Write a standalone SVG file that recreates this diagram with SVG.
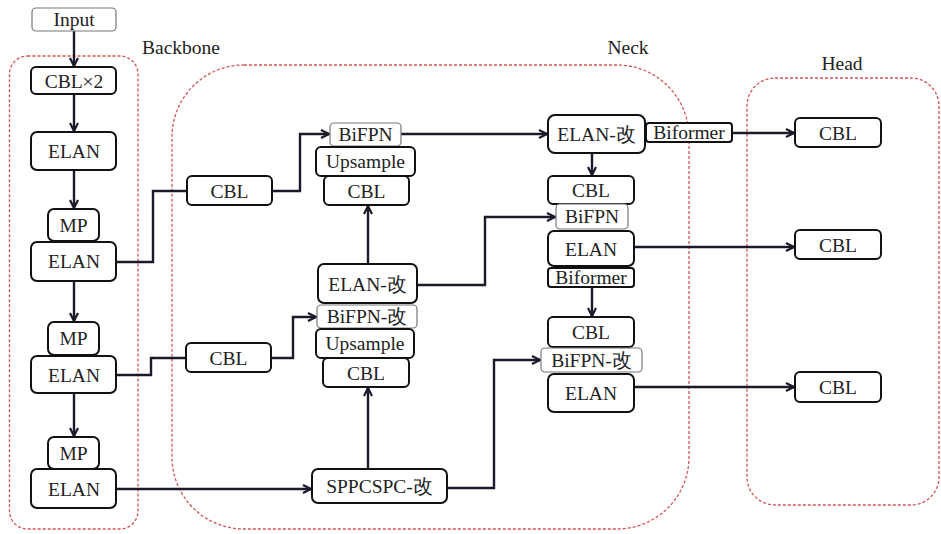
<svg xmlns="http://www.w3.org/2000/svg" width="941" height="534" viewBox="0 0 941 534">
<defs>
<style>
text{font-family:'Liberation Serif','Times New Roman','DejaVu Serif',serif;font-size:19.5px;fill:#222;text-anchor:middle}
.b{fill:#fff;stroke:#111;stroke-width:2}
.g{fill:#fff;stroke:#777;stroke-width:1.2}
.grp{fill:none;stroke:#d25555;stroke-width:1.3;stroke-dasharray:3 2}
.c path{fill:none;stroke:#1a1a2a;stroke-width:2.4}
.lbl{text-anchor:start}
</style>
<marker id="ah" viewBox="0 0 10 10" refX="9" refY="5" markerWidth="10" markerHeight="10" markerUnits="userSpaceOnUse" orient="auto">
<path d="M1,1 L9,5 L1,9" fill="none" stroke="#1a1a2a" stroke-width="2.2"/>
</marker>
</defs>
<rect width="941" height="534" fill="#fff"/>
<g font-family="'Liberation Serif', 'Times New Roman', 'DejaVu Serif', serif">
<g id="groups">
<rect class="grp" x="9.5" y="56" width="128.5" height="473" rx="18"/>
<rect class="grp" x="172" y="65" width="517" height="464" rx="72"/>
<rect class="grp" x="747" y="78" width="192" height="427" rx="28"/>
<text class="lbl" x="142" y="54">Backbone</text>
<text x="628" y="54">Neck</text>
<text x="842" y="70">Head</text>
</g>

<g class="c" id="connectors">
<path d="M74,31 V66" marker-end="url(#ah)"/>
<path d="M74,94 V131" marker-end="url(#ah)"/>
<path d="M74,170 V208" marker-end="url(#ah)"/>
<path d="M74,281 V321" marker-end="url(#ah)"/>
<path d="M74,393 V436" marker-end="url(#ah)"/>
<path d="M116,262 H153 V191 H187"/>
<path d="M272,191 H300 V134 H329" marker-end="url(#ah)"/>
<path d="M116,375 H151 V358 H186"/>
<path d="M271,358 H293 V317 H316" marker-end="url(#ah)"/>
<path d="M116,489 H311" marker-end="url(#ah)"/>
<path d="M368,469 V388" marker-end="url(#ah)"/>
<path d="M368,264 V206" marker-end="url(#ah)"/>
<path d="M401,134 H547" marker-end="url(#ah)"/>
<path d="M417,285 H485 V217 H555" marker-end="url(#ah)"/>
<path d="M447,488 H494 V360 H540" marker-end="url(#ah)"/>
<path d="M592,153 V175" marker-end="url(#ah)"/>
<path d="M592,287 V316" marker-end="url(#ah)"/>
<path d="M732,133 H794" marker-end="url(#ah)"/>
<path d="M634,247 H794" marker-end="url(#ah)"/>
<path d="M634,387 H794" marker-end="url(#ah)"/>
</g>

<g id="input"><rect class="g" x="32" y="8" width="84" height="23" rx="4"/><text x="74" y="26">Input</text></g>
<g id="cbl2"><rect class="b" x="31" y="67" width="85" height="27" rx="5"/><text x="74" y="87.5">CBL×2</text></g>
<g id="elan1"><rect class="b" x="31" y="132" width="85" height="38" rx="6"/><text x="74" y="158">ELAN</text></g>
<g id="mp1"><rect class="b" x="48" y="209" width="51" height="32" rx="6"/><text x="73.5" y="232">MP</text></g>
<g id="elan2"><rect class="b" x="31" y="242" width="85" height="39" rx="6"/><text x="74" y="268">ELAN</text></g>
<g id="mp2"><rect class="b" x="48" y="322" width="51" height="33" rx="6"/><text x="73.5" y="345">MP</text></g>
<g id="elan3"><rect class="b" x="31" y="356" width="85" height="37" rx="6"/><text x="74" y="381.5">ELAN</text></g>
<g id="mp3"><rect class="b" x="48" y="437" width="51" height="32" rx="6"/><text x="73.5" y="460">MP</text></g>
<g id="elan4"><rect class="b" x="31" y="469" width="85" height="39" rx="6"/><text x="74" y="495.5">ELAN</text></g>

<g id="cbl_n1"><rect class="b" x="187" y="176" width="85" height="29" rx="5"/><text x="229.5" y="197.5">CBL</text></g>
<g id="cbl_n2"><rect class="b" x="186" y="343" width="85" height="29" rx="5"/><text x="228.5" y="364.5">CBL</text></g>

<g id="bifpn1"><rect class="g" x="330" y="123" width="71" height="23" rx="4"/><text x="365.5" y="141">BiFPN</text></g>
<g id="cbl_m1"><rect class="b" x="324" y="176" width="85" height="29" rx="5"/><text x="366.5" y="197.5">CBL</text></g>
<g id="ups1"><rect class="b" x="316" y="147" width="99" height="29" rx="5"/><text x="365.5" y="168">Upsample</text></g>
<g id="elanmod1"><rect class="b" x="318" y="264" width="99" height="39" rx="6"/><text x="367.5" y="290.5">ELAN-改</text></g>
<g id="bifpnmod1"><rect class="g" x="317" y="305" width="100" height="23" rx="4"/><text x="367" y="323">BiFPN-改</text></g>
<g id="cbl_m2"><rect class="b" x="323" y="358" width="86" height="29" rx="5"/><text x="366" y="379.5">CBL</text></g>
<g id="ups2"><rect class="b" x="316" y="329" width="98" height="29" rx="5"/><text x="365" y="350">Upsample</text></g>
<g id="sppcspc"><rect class="b" x="312" y="469" width="135" height="34" rx="6"/><text x="379.5" y="493">SPPCSPC-改</text></g>

<g id="elanmod2"><rect class="b" x="548" y="115" width="97" height="38" rx="7"/><text x="596.5" y="141">ELAN-改</text></g>
<g id="biformer1"><rect class="b" x="646" y="123" width="86" height="19" rx="3"/><text x="689" y="139">Biformer</text></g>
<g id="cbl_r1"><rect class="b" x="548" y="176" width="86" height="28" rx="5"/><text x="591" y="197">CBL</text></g>
<g id="bifpn2"><rect class="g" x="556" y="204" width="72" height="25" rx="4"/><text x="592" y="223">BiFPN</text></g>
<g id="elan_r1"><rect class="b" x="548" y="231" width="86" height="35" rx="6"/><text x="591" y="255.5">ELAN</text></g>
<g id="biformer2"><rect class="b" x="548" y="268" width="86" height="19" rx="3"/><text x="591" y="284">Biformer</text></g>
<g id="cbl_r2"><rect class="b" x="548" y="317" width="86" height="30" rx="5"/><text x="591" y="339">CBL</text></g>
<g id="bifpnmod2"><rect class="g" x="541" y="348" width="101" height="24" rx="4"/><text x="591.5" y="367">BiFPN-改</text></g>
<g id="elan_r2"><rect class="b" x="548" y="374" width="86" height="38" rx="6"/><text x="591" y="400">ELAN</text></g>

<g id="head1"><rect class="b" x="795" y="118" width="86" height="29" rx="5"/><text x="838" y="139.5">CBL</text></g>
<g id="head2"><rect class="b" x="795" y="230" width="86" height="29" rx="5"/><text x="838" y="251.5">CBL</text></g>
<g id="head3"><rect class="b" x="795" y="372" width="86" height="30" rx="5"/><text x="838" y="394">CBL</text></g>
</g>
</svg>
